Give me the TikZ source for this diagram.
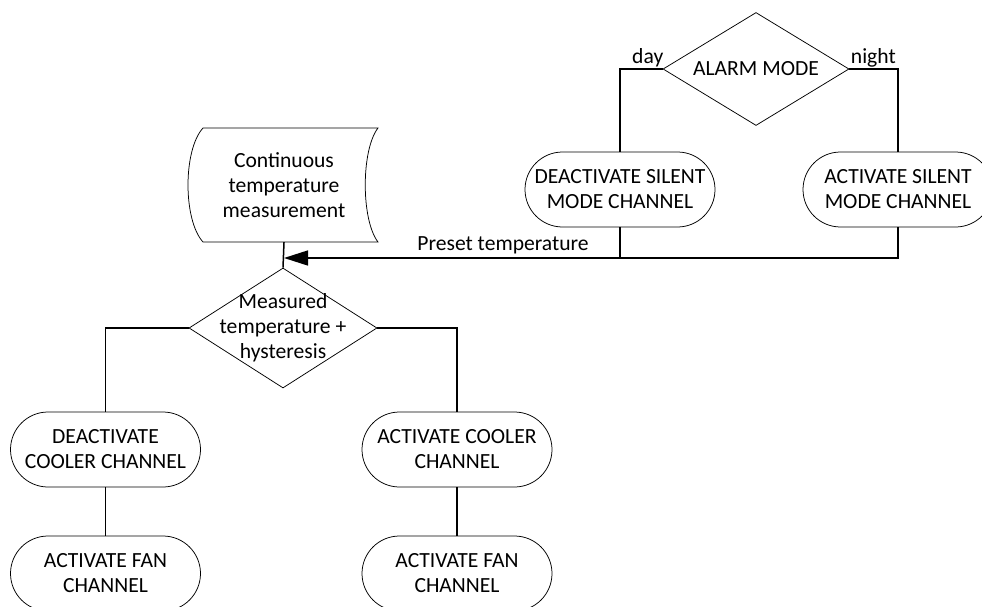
\documentclass[tikz,border=0pt]{standalone}
\usepackage{fontspec}
\setmainfont{Carlito}
\usetikzlibrary{shapes.geometric,arrows.meta}
\begin{document}
\begin{tikzpicture}[x=1pt,y=-1pt,
  every node/.style={font=\fontsize{21.6}{25}\selectfont},
  pill/.style={draw, rectangle, rounded corners=37.5pt, minimum width=190pt,
    minimum height=75pt, inner sep=0pt, align=center, line width=0.75pt},
  decide/.style={draw, diamond, inner sep=0pt, line width=0.75pt},
  outline/.style={line width=0.75pt},
  link/.style={line width=1.5pt},
  tag/.style={inner sep=0pt},
]
\useasboundingbox (0,0) rectangle (982,607);

% alarm mode decision and the silent mode branches
\node[decide, minimum width=186pt, minimum height=113pt] (alarm) at (756,69) {};
\node[tag] (alarmT) at (alarm) {ALARM MODE};
\node[pill] (dsil) at (620,189.5) {DEACTIVATE SILENT\\MODE CHANNEL};
\node[pill] (asil) at (898,189.5) {ACTIVATE SILENT\\MODE CHANNEL};
\node[tag, anchor=base west] (day) at (632,64) {day};
\node[tag, anchor=base east] (night) at (896,64) {night};

% stored data symbol for the measurement
\node[tag, align=center, minimum width=175pt, minimum height=114pt] (cont) at (284,185)
  {Continuous\\temperature\\measurement};
\draw[outline] (203,128) -- (378,128)
  .. controls (361,150) and (361,220) .. (378,242) -- (203,242)
  .. controls (183,220) and (183,150) .. (203,128) -- cycle;

% comparison decision
\node[decide, minimum width=188pt, minimum height=120pt] (meas) at (283,328) {};
\node[tag, align=center] (measT) at (meas) {Measured\\temperature +\\hysteresis};

% cooler and fan channels
\node[pill] (dcool) at (105.5,449.5) {DEACTIVATE\\COOLER CHANNEL};
\node[pill] (acool) at (457,449.5) {ACTIVATE COOLER\\CHANNEL};
\node[pill] (dfan) at (105.5,573.5) {ACTIVATE FAN\\CHANNEL};
\node[pill] (afan) at (457,573.5) {ACTIVATE FAN\\CHANNEL};

% connectors
\coordinate (tip) at (cont.south |- 0,258);
\draw[link] (alarm.west) -| (dsil.north);
\draw[link] (alarm.east) -| (asil.north);
\draw[link] (dsil.south) -- (dsil.south |- tip);
\draw[link, -{Triangle[length=24pt,width=15pt]}] (asil.south) |- (tip);
\node[tag, anchor=base] (preset) at (503,250) {Preset temperature};
\draw[link] (cont.south) -- (meas.north);
\draw[link] (meas.west) -| (dcool.north);
\draw[link] (meas.east) -| (acool.north);
\draw[link] (dcool.south) -- (dfan.north);
\draw[link] (acool.south) -- (afan.north);
\end{tikzpicture}
\end{document}
